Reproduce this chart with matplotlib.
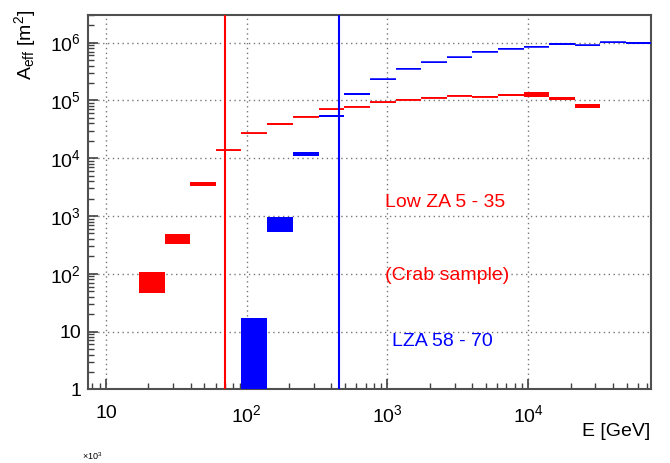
import matplotlib
matplotlib.use("Agg")
import matplotlib.pyplot as plt
from matplotlib.ticker import FixedLocator, FixedFormatter, LogLocator, NullFormatter
import numpy as np

plt.rcParams['font.family'] = ['Liberation Sans', 'DejaVu Sans']
plt.rcParams['mathtext.fontset'] = 'custom'
plt.rcParams['mathtext.rm'] = 'Liberation Sans'
plt.rcParams['mathtext.it'] = 'Liberation Sans:italic'
plt.rcParams['mathtext.bf'] = 'Liberation Sans:bold'

# ---- data ----
bin_edges = [17.2, 26.2, 39.7, 60.4, 91.4, 140, 212, 324, 492, 750, 1142,
             1735, 2641, 3994, 6081, 9265, 14000, 21320, 32400, 49350, 74800]

# Low ZA (red): bins 0..17
red_lo = [46, 323, 3330, 13200, 26500, 38000, 50800, 68500, 76000, 90000, 100000,
          108500, 117000, 112500, 119000, 113000, 101000, 73600]
red_hi = [108, 486, 3900, 14000, 27600, 40000, 53200, 72000, 80000, 94500, 105500,
          115500, 125000, 120000, 127000, 139000, 113000, 86300]

# LZA (blue): bins 4..19
blue_first_bin = 4
blue_lo = [0.5, 533, 11000, 51000, 125500, 225000, 342000, 446000, 545000,
           675000, 768000, 825000, 925000, 880000, 980000, 945000]
blue_hi = [17, 968, 12900, 55500, 132500, 235000, 358000, 464000, 565000,
           705000, 802000, 870000, 975000, 920000, 1030000, 1025000]

red_threshold = 70     # GeV
blue_threshold = 450   # GeV

x_ticks = [10, 100, 1000, 10000]
x_tick_labels = ['10', r'$10^2$', r'$10^3$', r'$10^4$']
y_ticks = [1, 10, 100, 1e3, 1e4, 1e5, 1e6]
y_tick_labels = ['1', '10', r'$10^2$', r'$10^3$', r'$10^4$', r'$10^5$', r'$10^6$']

RED = '#ff0000'
BLUE = '#0000ff'

fig = plt.figure(figsize=(6.7, 4.63), dpi=100)
ax = fig.add_axes([88/670, 1 - 389.3/463, (651-88)/670, (389.3-15)/463])
ax.set_xscale('log')
ax.set_yscale('log')
ax.set_xlim(7.45, 74500)
ax.set_ylim(1, 3.0e6)

edges = np.array(bin_edges)


def draw_series(lo, hi, first, color, lw):
    lo = np.array(lo, dtype=float)
    hi = np.array(hi, dtype=float)
    n = len(lo)
    left = edges[first:first + n]
    right = edges[first + 1:first + n + 1]
    ax.bar(left, hi - lo, width=right - left, bottom=lo, align='edge',
           color=color, edgecolor='none', linewidth=0, zorder=3)
    mid = np.sqrt(lo * hi)
    ax.hlines(mid, left, right, colors=color, linewidth=lw, zorder=3)


draw_series(red_lo, red_hi, 0, RED, 1.3)
draw_series(blue_lo, blue_hi, blue_first_bin, BLUE, 1.1)

ax.axvline(red_threshold, color=RED, linewidth=1.5, zorder=4)
ax.axvline(blue_threshold, color=BLUE, linewidth=1.5, zorder=4)

# grid
ax.grid(True, which='major', linestyle=(0, (1, 2.5)), color='#777777', linewidth=1.0, zorder=1)
ax.set_axisbelow(True)

# ticks
ax.xaxis.set_major_locator(FixedLocator(x_ticks))
ax.xaxis.set_major_formatter(FixedFormatter(x_tick_labels))
ax.yaxis.set_major_locator(FixedLocator(y_ticks))
ax.yaxis.set_major_formatter(FixedFormatter(y_tick_labels))
ax.xaxis.set_minor_locator(LogLocator(base=10, subs=np.arange(2, 10), numticks=20))
ax.yaxis.set_minor_locator(LogLocator(base=10, subs=np.arange(2, 10), numticks=20))
ax.xaxis.set_minor_formatter(NullFormatter())
ax.yaxis.set_minor_formatter(NullFormatter())
ax.tick_params(axis='both', which='major', direction='in', length=7, width=1.2,
               color='#404040', labelsize=14, top=False, right=False)
ax.tick_params(axis='both', which='minor', direction='in', length=4, width=1.0,
               color='#404040', top=False, right=False)
ax.tick_params(axis='x', which='major', pad=11)
ax.tick_params(axis='y', which='major', pad=5)

for s in ax.spines.values():
    s.set_color('#505050')
    s.set_linewidth(1.5)

# texts
ax.text(965, 1690, 'Low ZA 5 - 35', color=RED, fontsize=14, ha='left', va='center')
ax.text(965, 94, '(Crab sample)', color=RED, fontsize=14, ha='left', va='center')
ax.text(1080, 6.6, 'LZA 58 - 70', color=BLUE, fontsize=14, ha='left', va='center')

fig.text(650/670, 1 - 432/463, 'E [GeV]', fontsize=14, ha='right', va='center')
fig.text(25/670, 1 - 10/463, r'A$_{\rm eff}$ [m$^2$]', fontsize=14, rotation=90,
         ha='center', va='top')
fig.text(82/670, 1 - 456/463, r'$\times10^3$', fontsize=6.5, ha='left', va='center')

fig.savefig('out.png', dpi=100)
